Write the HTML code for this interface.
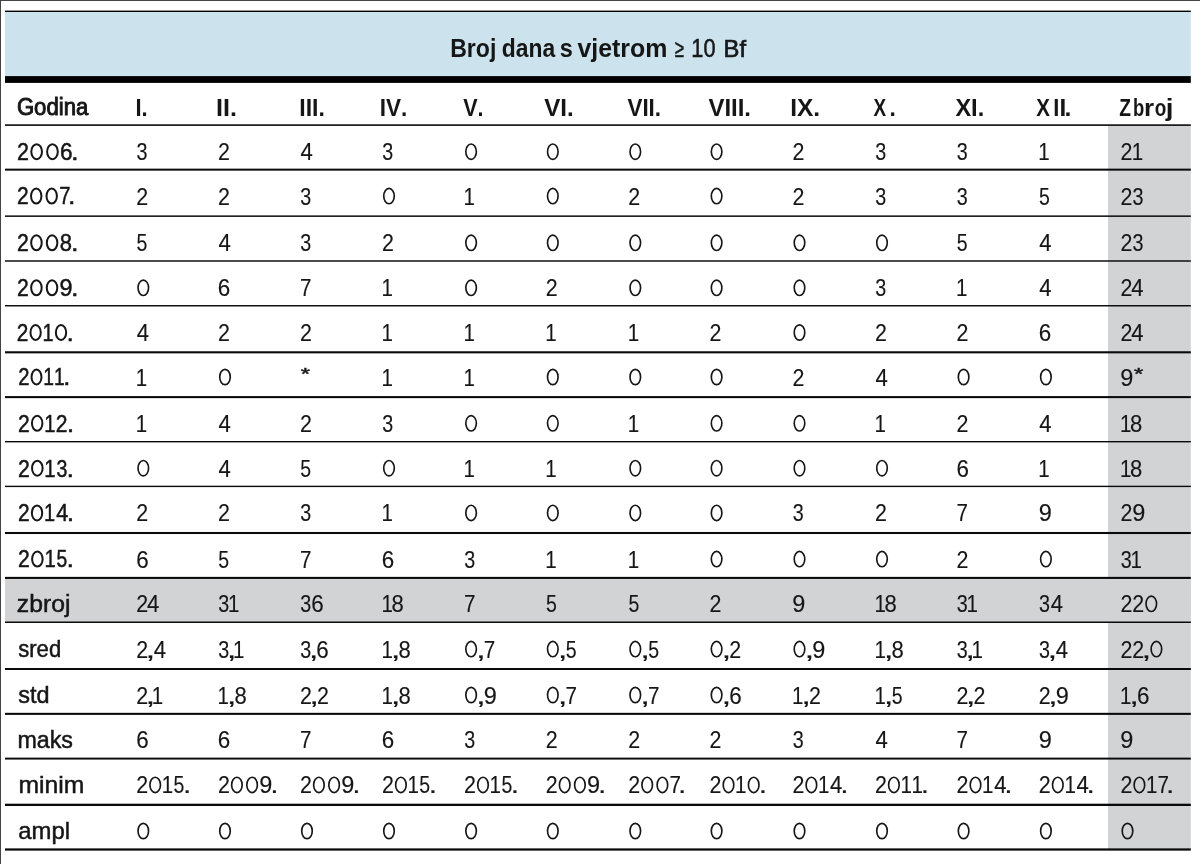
<!DOCTYPE html>
<html><head><meta charset="utf-8"><style>
html,body{margin:0;padding:0;background:#fff;}
body{width:1200px;height:864px;overflow:hidden;}
svg{display:block;will-change:transform;}
text{font-family:"Liberation Sans",sans-serif;font-size:24.5px;fill:#161616;font-kerning:none;}
</style></head><body>
<svg width="1200" height="864" viewBox="0 0 1200 864">
<rect x="0" y="0" width="1200" height="864" fill="#fff"/>
<rect x="5" y="11.5" width="1185.8" height="64.5" fill="#cce3ed"/>
<rect x="5" y="10.6" width="1185.8" height="1.4" fill="#000"/>
<rect x="5" y="76.1" width="1185.8" height="6.8" fill="#000"/>
<rect x="1108" y="125.1" width="82.79999999999995" height="724.4" fill="#d2d3d5"/>
<rect x="5" y="577.9" width="1185.8" height="44.35000000000002" fill="#d2d3d5"/>
<rect x="5" y="124.30" width="1185.8" height="1.6" fill="#0a0a0a"/>
<rect x="5" y="168.65" width="1185.8" height="2.0" fill="#0a0a0a"/>
<rect x="5" y="215.40" width="1185.8" height="1.5" fill="#0a0a0a"/>
<rect x="5" y="260.27" width="1185.8" height="1.45" fill="#0a0a0a"/>
<rect x="5" y="305.02" width="1185.8" height="1.45" fill="#0a0a0a"/>
<rect x="5" y="351.25" width="1185.8" height="2.1" fill="#0a0a0a"/>
<rect x="5" y="396.08" width="1185.8" height="2.05" fill="#0a0a0a"/>
<rect x="5" y="441.00" width="1185.8" height="1.4" fill="#0a0a0a"/>
<rect x="5" y="485.70" width="1185.8" height="1.4" fill="#0a0a0a"/>
<rect x="5" y="531.97" width="1185.8" height="2.07" fill="#0a0a0a"/>
<rect x="5" y="576.87" width="1185.8" height="2.07" fill="#0a0a0a"/>
<rect x="5" y="621.50" width="1185.8" height="1.5" fill="#0a0a0a"/>
<rect x="5" y="668.00" width="1185.8" height="2.0" fill="#0a0a0a"/>
<rect x="5" y="712.82" width="1185.8" height="2.07" fill="#0a0a0a"/>
<rect x="5" y="757.63" width="1185.8" height="1.93" fill="#0a0a0a"/>
<rect x="5" y="803.70" width="1185.8" height="2.3" fill="#0a0a0a"/>
<rect x="5" y="848.38" width="1185.8" height="2.25" fill="#0a0a0a"/>
<rect x="0" y="0" width="1200" height="1" fill="#444"/>
<rect x="0" y="0" width="1" height="864" fill="#424242"/>
<text transform="translate(450.16 56.70) scale(0.898 1)" font-weight="bold" style="font-size:25.7px">Broj</text>
<text transform="translate(501.76 56.70) scale(0.890 1)" font-weight="bold" style="font-size:25.7px">dana</text>
<text transform="translate(559.87 56.70) scale(0.916 1)" font-weight="bold" style="font-size:25.7px">s</text>
<text transform="translate(577.40 56.70) scale(0.969 1)" font-weight="bold" style="font-size:25.7px">vjetrom</text>
<text transform="translate(674.66 56.70) scale(0.657 0.977)" style="font-size:25.7px" stroke="#161616" stroke-width="0.4">≥</text>
<text transform="translate(691.29 56.65) scale(0.847 0.972)" style="font-size:25.7px" stroke="#161616" stroke-width="0.5">10</text>
<text transform="translate(723.59 56.55) scale(0.927 0.961)" style="font-size:25.7px" stroke="#161616" stroke-width="0.7">Bf</text>
<text transform="translate(16.89 115.40) scale(0.904 0.941)" stroke="#161616" stroke-width="1.0">Godina</text>
<text transform="translate(135.53 115.90) scale(0.894 1)" font-weight="bold">I.</text>
<text transform="translate(216.12 115.90) scale(1.024 1)" font-weight="bold">II.</text>
<text transform="translate(299.26 115.90) scale(0.941 1)" font-weight="bold">III.</text>
<text transform="translate(379.79 115.90) scale(0.920 1)" font-weight="bold">IV.</text>
<text transform="translate(463.15 115.90) scale(0.878 1)" font-weight="bold">V.</text>
<text transform="translate(544.23 115.90) scale(0.986 1)" font-weight="bold">VI.</text>
<text transform="translate(627.45 115.90) scale(0.914 1)" font-weight="bold">VII.</text>
<text transform="translate(708.44 115.90) scale(0.978 1)" font-weight="bold">VIII.</text>
<text transform="translate(790.26 115.90) scale(0.999 1)" font-weight="bold">IX.</text>
<text transform="translate(873.53 115.90) scale(0.773 1)" font-weight="bold">X</text>
<text transform="translate(889.46 115.90) scale(0.926 1)" font-weight="bold">.</text>
<text transform="translate(955.39 115.90) scale(0.962 1)" font-weight="bold">XI.</text>
<text transform="translate(1036.37 115.90) scale(0.836 1)" font-weight="bold">X</text>
<text transform="translate(1053.29 115.90) scale(0.893 1)" font-weight="bold">I</text>
<text transform="translate(1059.57 115.90) scale(0.992 1)" font-weight="bold">I</text>
<text transform="translate(1064.42 115.90) scale(1.012 1)" font-weight="bold">.</text>
<text transform="translate(1119.13 115.90) scale(0.783 1)" font-weight="bold">Z</text>
<text transform="translate(1132.98 115.90) scale(0.753 1)" font-weight="bold">b</text>
<text transform="translate(1144.09 115.90) scale(1.060 1)" font-weight="bold">r</text>
<text transform="translate(1154.86 115.90) scale(0.774 1)" font-weight="bold">o</text>
<text transform="translate(1165.63 115.90) scale(1.134 1)" font-weight="bold">j</text>
<text transform="translate(17.07 160.05) scale(0.878 0.970)" stroke="#161616" stroke-width="0.5">2</text>
<ellipse cx="36.64" cy="151.70" rx="5.35" ry="7.50" fill="none" stroke="#161616" stroke-width="2.00"/>
<ellipse cx="52.46" cy="151.70" rx="5.35" ry="7.50" fill="none" stroke="#161616" stroke-width="2.00"/>
<text transform="translate(59.99 160.05) scale(0.923 0.970)" stroke="#161616" stroke-width="0.5">6</text>
<text transform="translate(71.01 160.05) scale(1.124 0.970)" stroke="#161616" stroke-width="0.5">.</text>
<text transform="translate(136.52 160.23) scale(0.805 0.991)" stroke="#161616" stroke-width="0.15">3</text>
<text transform="translate(217.90 160.23) scale(0.874 0.991)" stroke="#161616" stroke-width="0.15">2</text>
<text transform="translate(300.47 160.23) scale(0.903 0.991)" stroke="#161616" stroke-width="0.15">4</text>
<text transform="translate(382.22 160.23) scale(0.805 0.991)" stroke="#161616" stroke-width="0.15">3</text>
<ellipse cx="471.10" cy="151.70" rx="5.27" ry="7.67" fill="none" stroke="#161616" stroke-width="1.65"/>
<ellipse cx="552.80" cy="151.70" rx="5.28" ry="7.67" fill="none" stroke="#161616" stroke-width="1.65"/>
<ellipse cx="635.30" cy="151.70" rx="5.28" ry="7.67" fill="none" stroke="#161616" stroke-width="1.65"/>
<ellipse cx="716.60" cy="151.70" rx="5.28" ry="7.67" fill="none" stroke="#161616" stroke-width="1.65"/>
<text transform="translate(792.40 160.23) scale(0.874 0.991)" stroke="#161616" stroke-width="0.15">2</text>
<text transform="translate(875.22 160.23) scale(0.805 0.991)" stroke="#161616" stroke-width="0.15">3</text>
<text transform="translate(956.82 160.23) scale(0.805 0.991)" stroke="#161616" stroke-width="0.15">3</text>
<text transform="translate(1038.31 160.23) scale(0.838 0.991)" stroke="#161616" stroke-width="0.15">1</text>
<text transform="translate(1120.40 160.23) scale(0.874 0.991)" stroke="#161616" stroke-width="0.15">2</text>
<text transform="translate(1131.81 160.23) scale(0.838 0.991)" stroke="#161616" stroke-width="0.15">1</text>
<text transform="translate(17.09 204.45) scale(0.858 0.970)" stroke="#161616" stroke-width="0.5">2</text>
<ellipse cx="36.23" cy="196.10" rx="5.21" ry="7.50" fill="none" stroke="#161616" stroke-width="2.00"/>
<ellipse cx="51.71" cy="196.10" rx="5.21" ry="7.50" fill="none" stroke="#161616" stroke-width="2.00"/>
<text transform="translate(59.17 204.45) scale(0.824 0.970)" stroke="#161616" stroke-width="0.5">7</text>
<text transform="translate(68.04 204.45) scale(1.095 0.970)" stroke="#161616" stroke-width="0.5">.</text>
<text transform="translate(136.20 204.62) scale(0.874 0.991)" stroke="#161616" stroke-width="0.15">2</text>
<text transform="translate(217.90 204.62) scale(0.874 0.991)" stroke="#161616" stroke-width="0.15">2</text>
<text transform="translate(300.22 204.62) scale(0.805 0.991)" stroke="#161616" stroke-width="0.15">3</text>
<ellipse cx="389.00" cy="196.10" rx="5.27" ry="7.67" fill="none" stroke="#161616" stroke-width="1.65"/>
<text transform="translate(463.51 204.62) scale(0.838 0.991)" stroke="#161616" stroke-width="0.15">1</text>
<ellipse cx="552.80" cy="196.10" rx="5.28" ry="7.67" fill="none" stroke="#161616" stroke-width="1.65"/>
<text transform="translate(628.20 204.62) scale(0.874 0.991)" stroke="#161616" stroke-width="0.15">2</text>
<ellipse cx="716.60" cy="196.10" rx="5.28" ry="7.67" fill="none" stroke="#161616" stroke-width="1.65"/>
<text transform="translate(792.40 204.62) scale(0.874 0.991)" stroke="#161616" stroke-width="0.15">2</text>
<text transform="translate(875.22 204.62) scale(0.805 0.991)" stroke="#161616" stroke-width="0.15">3</text>
<text transform="translate(956.82 204.62) scale(0.805 0.991)" stroke="#161616" stroke-width="0.15">3</text>
<text transform="translate(1039.09 204.62) scale(0.796 0.991)" stroke="#161616" stroke-width="0.15">5</text>
<text transform="translate(1120.40 204.62) scale(0.874 0.991)" stroke="#161616" stroke-width="0.15">2</text>
<text transform="translate(1132.62 204.62) scale(0.805 0.991)" stroke="#161616" stroke-width="0.15">3</text>
<text transform="translate(17.08 251.15) scale(0.869 0.970)" stroke="#161616" stroke-width="0.5">2</text>
<ellipse cx="36.44" cy="242.80" rx="5.28" ry="7.50" fill="none" stroke="#161616" stroke-width="2.00"/>
<ellipse cx="52.09" cy="242.80" rx="5.28" ry="7.50" fill="none" stroke="#161616" stroke-width="2.00"/>
<text transform="translate(59.73 251.15) scale(0.897 0.970)" stroke="#161616" stroke-width="0.5">8</text>
<text transform="translate(71.08 251.15) scale(1.110 0.970)" stroke="#161616" stroke-width="0.5">.</text>
<text transform="translate(136.49 251.33) scale(0.796 0.991)" stroke="#161616" stroke-width="0.15">5</text>
<text transform="translate(218.47 251.33) scale(0.903 0.991)" stroke="#161616" stroke-width="0.15">4</text>
<text transform="translate(300.22 251.33) scale(0.805 0.991)" stroke="#161616" stroke-width="0.15">3</text>
<text transform="translate(381.90 251.33) scale(0.874 0.991)" stroke="#161616" stroke-width="0.15">2</text>
<ellipse cx="471.10" cy="242.80" rx="5.27" ry="7.67" fill="none" stroke="#161616" stroke-width="1.65"/>
<ellipse cx="552.80" cy="242.80" rx="5.28" ry="7.67" fill="none" stroke="#161616" stroke-width="1.65"/>
<ellipse cx="635.30" cy="242.80" rx="5.28" ry="7.67" fill="none" stroke="#161616" stroke-width="1.65"/>
<ellipse cx="716.60" cy="242.80" rx="5.28" ry="7.67" fill="none" stroke="#161616" stroke-width="1.65"/>
<ellipse cx="799.50" cy="242.80" rx="5.28" ry="7.67" fill="none" stroke="#161616" stroke-width="1.65"/>
<ellipse cx="882.00" cy="242.80" rx="5.28" ry="7.67" fill="none" stroke="#161616" stroke-width="1.65"/>
<text transform="translate(956.79 251.33) scale(0.796 0.991)" stroke="#161616" stroke-width="0.15">5</text>
<text transform="translate(1039.37 251.33) scale(0.903 0.991)" stroke="#161616" stroke-width="0.15">4</text>
<text transform="translate(1120.40 251.33) scale(0.874 0.991)" stroke="#161616" stroke-width="0.15">2</text>
<text transform="translate(1132.62 251.33) scale(0.805 0.991)" stroke="#161616" stroke-width="0.15">3</text>
<text transform="translate(17.08 296.15) scale(0.867 0.970)" stroke="#161616" stroke-width="0.5">2</text>
<ellipse cx="36.41" cy="287.80" rx="5.27" ry="7.50" fill="none" stroke="#161616" stroke-width="2.00"/>
<ellipse cx="52.03" cy="287.80" rx="5.27" ry="7.50" fill="none" stroke="#161616" stroke-width="2.00"/>
<text transform="translate(59.51 296.15) scale(0.955 0.970)" stroke="#161616" stroke-width="0.5">9</text>
<text transform="translate(71.09 296.15) scale(1.108 0.970)" stroke="#161616" stroke-width="0.5">.</text>
<ellipse cx="143.30" cy="287.80" rx="5.27" ry="7.67" fill="none" stroke="#161616" stroke-width="1.65"/>
<text transform="translate(217.84 296.32) scale(0.916 0.991)" stroke="#161616" stroke-width="0.15">6</text>
<text transform="translate(299.92 296.32) scale(0.840 0.991)" stroke="#161616" stroke-width="0.15">7</text>
<text transform="translate(381.41 296.32) scale(0.838 0.991)" stroke="#161616" stroke-width="0.15">1</text>
<ellipse cx="471.10" cy="287.80" rx="5.27" ry="7.67" fill="none" stroke="#161616" stroke-width="1.65"/>
<text transform="translate(545.70 296.32) scale(0.874 0.991)" stroke="#161616" stroke-width="0.15">2</text>
<ellipse cx="635.30" cy="287.80" rx="5.28" ry="7.67" fill="none" stroke="#161616" stroke-width="1.65"/>
<ellipse cx="716.60" cy="287.80" rx="5.28" ry="7.67" fill="none" stroke="#161616" stroke-width="1.65"/>
<ellipse cx="799.50" cy="287.80" rx="5.28" ry="7.67" fill="none" stroke="#161616" stroke-width="1.65"/>
<text transform="translate(875.22 296.32) scale(0.805 0.991)" stroke="#161616" stroke-width="0.15">3</text>
<text transform="translate(956.01 296.32) scale(0.838 0.991)" stroke="#161616" stroke-width="0.15">1</text>
<text transform="translate(1039.37 296.32) scale(0.903 0.991)" stroke="#161616" stroke-width="0.15">4</text>
<text transform="translate(1120.40 296.32) scale(0.874 0.991)" stroke="#161616" stroke-width="0.15">2</text>
<text transform="translate(1131.27 296.32) scale(0.903 0.991)" stroke="#161616" stroke-width="0.15">4</text>
<text transform="translate(16.70 340.85) scale(0.849 0.970)" stroke="#161616" stroke-width="0.5">2</text>
<ellipse cx="35.63" cy="332.50" rx="5.15" ry="7.50" fill="none" stroke="#161616" stroke-width="2.00"/>
<text transform="translate(42.53 340.85) scale(0.811 0.970)" stroke="#161616" stroke-width="0.5">1</text>
<ellipse cx="61.02" cy="332.50" rx="5.15" ry="7.50" fill="none" stroke="#161616" stroke-width="2.00"/>
<text transform="translate(66.51 340.85) scale(1.081 0.970)" stroke="#161616" stroke-width="0.5">.</text>
<text transform="translate(136.77 341.03) scale(0.903 0.991)" stroke="#161616" stroke-width="0.15">4</text>
<text transform="translate(217.90 341.03) scale(0.874 0.991)" stroke="#161616" stroke-width="0.15">2</text>
<text transform="translate(299.90 341.03) scale(0.874 0.991)" stroke="#161616" stroke-width="0.15">2</text>
<text transform="translate(381.41 341.03) scale(0.838 0.991)" stroke="#161616" stroke-width="0.15">1</text>
<text transform="translate(463.51 341.03) scale(0.838 0.991)" stroke="#161616" stroke-width="0.15">1</text>
<text transform="translate(545.21 341.03) scale(0.838 0.991)" stroke="#161616" stroke-width="0.15">1</text>
<text transform="translate(627.71 341.03) scale(0.838 0.991)" stroke="#161616" stroke-width="0.15">1</text>
<text transform="translate(709.50 341.03) scale(0.874 0.991)" stroke="#161616" stroke-width="0.15">2</text>
<ellipse cx="799.50" cy="332.50" rx="5.28" ry="7.67" fill="none" stroke="#161616" stroke-width="1.65"/>
<text transform="translate(874.90 341.03) scale(0.874 0.991)" stroke="#161616" stroke-width="0.15">2</text>
<text transform="translate(956.50 341.03) scale(0.874 0.991)" stroke="#161616" stroke-width="0.15">2</text>
<text transform="translate(1038.74 341.03) scale(0.916 0.991)" stroke="#161616" stroke-width="0.15">6</text>
<text transform="translate(1120.40 341.03) scale(0.874 0.991)" stroke="#161616" stroke-width="0.15">2</text>
<text transform="translate(1131.27 341.03) scale(0.903 0.991)" stroke="#161616" stroke-width="0.15">4</text>
<text transform="translate(18.14 385.35) scale(0.823 0.970)" stroke="#161616" stroke-width="0.5">2</text>
<ellipse cx="36.51" cy="377.00" rx="4.97" ry="7.50" fill="none" stroke="#161616" stroke-width="2.00"/>
<text transform="translate(43.21 385.35) scale(0.786 0.970)" stroke="#161616" stroke-width="0.5">1</text>
<text transform="translate(53.97 385.35) scale(0.786 0.970)" stroke="#161616" stroke-width="0.5">1</text>
<text transform="translate(63.18 385.35) scale(1.044 0.970)" stroke="#161616" stroke-width="0.5">.</text>
<text transform="translate(135.71 385.53) scale(0.838 0.991)" stroke="#161616" stroke-width="0.15">1</text>
<ellipse cx="225.00" cy="377.00" rx="5.27" ry="7.67" fill="none" stroke="#161616" stroke-width="1.65"/>
<text transform="translate(300.74 380.07) scale(1.407 0.962)" style="font-size:17px" stroke="#161616" stroke-width="0.44999999999999996">*</text>
<text transform="translate(381.41 385.53) scale(0.838 0.991)" stroke="#161616" stroke-width="0.15">1</text>
<text transform="translate(463.51 385.53) scale(0.838 0.991)" stroke="#161616" stroke-width="0.15">1</text>
<ellipse cx="552.80" cy="377.00" rx="5.28" ry="7.67" fill="none" stroke="#161616" stroke-width="1.65"/>
<ellipse cx="635.30" cy="377.00" rx="5.28" ry="7.67" fill="none" stroke="#161616" stroke-width="1.65"/>
<ellipse cx="716.60" cy="377.00" rx="5.28" ry="7.67" fill="none" stroke="#161616" stroke-width="1.65"/>
<text transform="translate(792.40 385.53) scale(0.874 0.991)" stroke="#161616" stroke-width="0.15">2</text>
<text transform="translate(875.47 385.53) scale(0.903 0.991)" stroke="#161616" stroke-width="0.15">4</text>
<ellipse cx="963.60" cy="377.00" rx="5.28" ry="7.67" fill="none" stroke="#161616" stroke-width="1.65"/>
<ellipse cx="1045.90" cy="377.00" rx="5.28" ry="7.67" fill="none" stroke="#161616" stroke-width="1.65"/>
<text transform="translate(1120.37 385.53) scale(0.959 0.991)" stroke="#161616" stroke-width="0.15">9</text>
<text transform="translate(1133.94 380.07) scale(1.407 0.962)" style="font-size:17px" stroke="#161616" stroke-width="0.44999999999999996">*</text>
<text transform="translate(17.99 431.65) scale(0.861 0.970)" stroke="#161616" stroke-width="0.5">2</text>
<ellipse cx="37.18" cy="423.30" rx="5.23" ry="7.50" fill="none" stroke="#161616" stroke-width="2.00"/>
<text transform="translate(44.17 431.65) scale(0.823 0.970)" stroke="#161616" stroke-width="0.5">1</text>
<text transform="translate(55.87 431.65) scale(0.861 0.970)" stroke="#161616" stroke-width="0.5">2</text>
<text transform="translate(66.63 431.65) scale(1.099 0.970)" stroke="#161616" stroke-width="0.5">.</text>
<text transform="translate(135.71 431.82) scale(0.838 0.991)" stroke="#161616" stroke-width="0.15">1</text>
<text transform="translate(218.47 431.82) scale(0.903 0.991)" stroke="#161616" stroke-width="0.15">4</text>
<text transform="translate(299.90 431.82) scale(0.874 0.991)" stroke="#161616" stroke-width="0.15">2</text>
<text transform="translate(382.22 431.82) scale(0.805 0.991)" stroke="#161616" stroke-width="0.15">3</text>
<ellipse cx="471.10" cy="423.30" rx="5.27" ry="7.67" fill="none" stroke="#161616" stroke-width="1.65"/>
<ellipse cx="552.80" cy="423.30" rx="5.28" ry="7.67" fill="none" stroke="#161616" stroke-width="1.65"/>
<text transform="translate(627.71 431.82) scale(0.838 0.991)" stroke="#161616" stroke-width="0.15">1</text>
<ellipse cx="716.60" cy="423.30" rx="5.28" ry="7.67" fill="none" stroke="#161616" stroke-width="1.65"/>
<ellipse cx="799.50" cy="423.30" rx="5.28" ry="7.67" fill="none" stroke="#161616" stroke-width="1.65"/>
<text transform="translate(874.41 431.82) scale(0.838 0.991)" stroke="#161616" stroke-width="0.15">1</text>
<text transform="translate(956.50 431.82) scale(0.874 0.991)" stroke="#161616" stroke-width="0.15">2</text>
<text transform="translate(1039.37 431.82) scale(0.903 0.991)" stroke="#161616" stroke-width="0.15">4</text>
<text transform="translate(1119.91 431.82) scale(0.838 0.991)" stroke="#161616" stroke-width="0.15">1</text>
<text transform="translate(1130.12 431.82) scale(0.900 0.991)" stroke="#161616" stroke-width="0.15">8</text>
<text transform="translate(17.98 476.55) scale(0.868 0.970)" stroke="#161616" stroke-width="0.5">2</text>
<ellipse cx="37.32" cy="468.20" rx="5.28" ry="7.50" fill="none" stroke="#161616" stroke-width="2.00"/>
<text transform="translate(44.36 476.55) scale(0.829 0.970)" stroke="#161616" stroke-width="0.5">1</text>
<text transform="translate(56.48 476.55) scale(0.799 0.970)" stroke="#161616" stroke-width="0.5">3</text>
<text transform="translate(66.58 476.55) scale(1.109 0.970)" stroke="#161616" stroke-width="0.5">.</text>
<ellipse cx="143.30" cy="468.20" rx="5.27" ry="7.67" fill="none" stroke="#161616" stroke-width="1.65"/>
<text transform="translate(218.47 476.73) scale(0.903 0.991)" stroke="#161616" stroke-width="0.15">4</text>
<text transform="translate(300.19 476.73) scale(0.796 0.991)" stroke="#161616" stroke-width="0.15">5</text>
<ellipse cx="389.00" cy="468.20" rx="5.27" ry="7.67" fill="none" stroke="#161616" stroke-width="1.65"/>
<text transform="translate(463.51 476.73) scale(0.838 0.991)" stroke="#161616" stroke-width="0.15">1</text>
<text transform="translate(545.21 476.73) scale(0.838 0.991)" stroke="#161616" stroke-width="0.15">1</text>
<ellipse cx="635.30" cy="468.20" rx="5.28" ry="7.67" fill="none" stroke="#161616" stroke-width="1.65"/>
<ellipse cx="716.60" cy="468.20" rx="5.28" ry="7.67" fill="none" stroke="#161616" stroke-width="1.65"/>
<ellipse cx="799.50" cy="468.20" rx="5.28" ry="7.67" fill="none" stroke="#161616" stroke-width="1.65"/>
<ellipse cx="882.00" cy="468.20" rx="5.28" ry="7.67" fill="none" stroke="#161616" stroke-width="1.65"/>
<text transform="translate(956.44 476.73) scale(0.916 0.991)" stroke="#161616" stroke-width="0.15">6</text>
<text transform="translate(1038.31 476.73) scale(0.838 0.991)" stroke="#161616" stroke-width="0.15">1</text>
<text transform="translate(1119.91 476.73) scale(0.838 0.991)" stroke="#161616" stroke-width="0.15">1</text>
<text transform="translate(1130.12 476.73) scale(0.900 0.991)" stroke="#161616" stroke-width="0.15">8</text>
<text transform="translate(18.00 521.25) scale(0.854 0.970)" stroke="#161616" stroke-width="0.5">2</text>
<ellipse cx="37.04" cy="512.90" rx="5.18" ry="7.50" fill="none" stroke="#161616" stroke-width="2.00"/>
<text transform="translate(43.98 521.25) scale(0.816 0.970)" stroke="#161616" stroke-width="0.5">1</text>
<text transform="translate(56.15 521.25) scale(0.887 0.970)" stroke="#161616" stroke-width="0.5">4</text>
<text transform="translate(66.67 521.25) scale(1.089 0.970)" stroke="#161616" stroke-width="0.5">.</text>
<text transform="translate(136.20 521.42) scale(0.874 0.991)" stroke="#161616" stroke-width="0.15">2</text>
<text transform="translate(217.90 521.42) scale(0.874 0.991)" stroke="#161616" stroke-width="0.15">2</text>
<text transform="translate(300.22 521.42) scale(0.805 0.991)" stroke="#161616" stroke-width="0.15">3</text>
<text transform="translate(381.41 521.42) scale(0.838 0.991)" stroke="#161616" stroke-width="0.15">1</text>
<ellipse cx="471.10" cy="512.90" rx="5.27" ry="7.67" fill="none" stroke="#161616" stroke-width="1.65"/>
<ellipse cx="552.80" cy="512.90" rx="5.28" ry="7.67" fill="none" stroke="#161616" stroke-width="1.65"/>
<ellipse cx="635.30" cy="512.90" rx="5.28" ry="7.67" fill="none" stroke="#161616" stroke-width="1.65"/>
<ellipse cx="716.60" cy="512.90" rx="5.28" ry="7.67" fill="none" stroke="#161616" stroke-width="1.65"/>
<text transform="translate(792.72 521.42) scale(0.805 0.991)" stroke="#161616" stroke-width="0.15">3</text>
<text transform="translate(874.90 521.42) scale(0.874 0.991)" stroke="#161616" stroke-width="0.15">2</text>
<text transform="translate(956.52 521.42) scale(0.840 0.991)" stroke="#161616" stroke-width="0.15">7</text>
<text transform="translate(1038.77 521.42) scale(0.959 0.991)" stroke="#161616" stroke-width="0.15">9</text>
<text transform="translate(1120.40 521.42) scale(0.874 0.991)" stroke="#161616" stroke-width="0.15">2</text>
<text transform="translate(1132.27 521.42) scale(0.959 0.991)" stroke="#161616" stroke-width="0.15">9</text>
<text transform="translate(18.08 567.45) scale(0.865 0.970)" stroke="#161616" stroke-width="0.5">2</text>
<ellipse cx="37.37" cy="559.10" rx="5.26" ry="7.50" fill="none" stroke="#161616" stroke-width="2.00"/>
<text transform="translate(44.39 567.45) scale(0.827 0.970)" stroke="#161616" stroke-width="0.5">1</text>
<text transform="translate(56.45 567.45) scale(0.787 0.970)" stroke="#161616" stroke-width="0.5">5</text>
<text transform="translate(66.45 567.45) scale(1.105 0.970)" stroke="#161616" stroke-width="0.5">.</text>
<text transform="translate(136.14 567.62) scale(0.916 0.991)" stroke="#161616" stroke-width="0.15">6</text>
<text transform="translate(218.19 567.62) scale(0.796 0.991)" stroke="#161616" stroke-width="0.15">5</text>
<text transform="translate(299.92 567.62) scale(0.840 0.991)" stroke="#161616" stroke-width="0.15">7</text>
<text transform="translate(381.84 567.62) scale(0.916 0.991)" stroke="#161616" stroke-width="0.15">6</text>
<text transform="translate(464.32 567.62) scale(0.805 0.991)" stroke="#161616" stroke-width="0.15">3</text>
<text transform="translate(545.21 567.62) scale(0.838 0.991)" stroke="#161616" stroke-width="0.15">1</text>
<text transform="translate(627.71 567.62) scale(0.838 0.991)" stroke="#161616" stroke-width="0.15">1</text>
<ellipse cx="716.60" cy="559.10" rx="5.28" ry="7.67" fill="none" stroke="#161616" stroke-width="1.65"/>
<ellipse cx="799.50" cy="559.10" rx="5.28" ry="7.67" fill="none" stroke="#161616" stroke-width="1.65"/>
<ellipse cx="882.00" cy="559.10" rx="5.28" ry="7.67" fill="none" stroke="#161616" stroke-width="1.65"/>
<text transform="translate(956.50 567.62) scale(0.874 0.991)" stroke="#161616" stroke-width="0.15">2</text>
<ellipse cx="1045.90" cy="559.10" rx="5.28" ry="7.67" fill="none" stroke="#161616" stroke-width="1.65"/>
<text transform="translate(1120.72 567.62) scale(0.805 0.991)" stroke="#161616" stroke-width="0.15">3</text>
<text transform="translate(1130.41 567.62) scale(0.838 0.991)" stroke="#161616" stroke-width="0.15">1</text>
<text transform="translate(16.85 612.15) scale(1.009 0.970)" stroke="#161616" stroke-width="0.5">zbroj</text>
<text transform="translate(136.20 612.32) scale(0.874 0.991)" stroke="#161616" stroke-width="0.15">2</text>
<text transform="translate(147.07 612.32) scale(0.903 0.991)" stroke="#161616" stroke-width="0.15">4</text>
<text transform="translate(218.22 612.32) scale(0.805 0.991)" stroke="#161616" stroke-width="0.15">3</text>
<text transform="translate(227.91 612.32) scale(0.838 0.991)" stroke="#161616" stroke-width="0.15">1</text>
<text transform="translate(300.22 612.32) scale(0.805 0.991)" stroke="#161616" stroke-width="0.15">3</text>
<text transform="translate(311.34 612.32) scale(0.916 0.991)" stroke="#161616" stroke-width="0.15">6</text>
<text transform="translate(381.41 612.32) scale(0.838 0.991)" stroke="#161616" stroke-width="0.15">1</text>
<text transform="translate(391.62 612.32) scale(0.900 0.991)" stroke="#161616" stroke-width="0.15">8</text>
<text transform="translate(464.02 612.32) scale(0.840 0.991)" stroke="#161616" stroke-width="0.15">7</text>
<text transform="translate(545.99 612.32) scale(0.796 0.991)" stroke="#161616" stroke-width="0.15">5</text>
<text transform="translate(628.49 612.32) scale(0.796 0.991)" stroke="#161616" stroke-width="0.15">5</text>
<text transform="translate(709.50 612.32) scale(0.874 0.991)" stroke="#161616" stroke-width="0.15">2</text>
<text transform="translate(792.37 612.32) scale(0.959 0.991)" stroke="#161616" stroke-width="0.15">9</text>
<text transform="translate(874.41 612.32) scale(0.838 0.991)" stroke="#161616" stroke-width="0.15">1</text>
<text transform="translate(884.62 612.32) scale(0.900 0.991)" stroke="#161616" stroke-width="0.15">8</text>
<text transform="translate(956.82 612.32) scale(0.805 0.991)" stroke="#161616" stroke-width="0.15">3</text>
<text transform="translate(966.51 612.32) scale(0.838 0.991)" stroke="#161616" stroke-width="0.15">1</text>
<text transform="translate(1039.12 612.32) scale(0.805 0.991)" stroke="#161616" stroke-width="0.15">3</text>
<text transform="translate(1050.87 612.32) scale(0.903 0.991)" stroke="#161616" stroke-width="0.15">4</text>
<text transform="translate(1120.40 612.32) scale(0.874 0.991)" stroke="#161616" stroke-width="0.15">2</text>
<text transform="translate(1132.30 612.32) scale(0.874 0.991)" stroke="#161616" stroke-width="0.15">2</text>
<ellipse cx="1151.30" cy="603.80" rx="5.28" ry="7.67" fill="none" stroke="#161616" stroke-width="1.65"/>
<text transform="translate(18.24 657.45) scale(0.901 0.970)" stroke="#161616" stroke-width="0.5">sred</text>
<text transform="translate(136.20 657.62) scale(0.874 0.991)" stroke="#161616" stroke-width="0.15">2</text>
<text transform="translate(145.52 657.62) scale(1.435 0.991)" stroke="#161616" stroke-width="0.15">,</text>
<text transform="translate(153.67 657.62) scale(0.903 0.991)" stroke="#161616" stroke-width="0.15">4</text>
<text transform="translate(218.22 657.62) scale(0.805 0.991)" stroke="#161616" stroke-width="0.15">3</text>
<text transform="translate(226.72 657.62) scale(1.435 0.991)" stroke="#161616" stroke-width="0.15">,</text>
<text transform="translate(232.91 657.62) scale(0.838 0.991)" stroke="#161616" stroke-width="0.15">1</text>
<text transform="translate(300.22 657.62) scale(0.805 0.991)" stroke="#161616" stroke-width="0.15">3</text>
<text transform="translate(308.72 657.62) scale(1.435 0.991)" stroke="#161616" stroke-width="0.15">,</text>
<text transform="translate(316.34 657.62) scale(0.916 0.991)" stroke="#161616" stroke-width="0.15">6</text>
<text transform="translate(381.41 657.62) scale(0.838 0.991)" stroke="#161616" stroke-width="0.15">1</text>
<text transform="translate(390.82 657.62) scale(1.435 0.991)" stroke="#161616" stroke-width="0.15">,</text>
<text transform="translate(398.62 657.62) scale(0.900 0.991)" stroke="#161616" stroke-width="0.15">8</text>
<ellipse cx="471.10" cy="649.10" rx="5.27" ry="7.67" fill="none" stroke="#161616" stroke-width="1.65"/>
<text transform="translate(476.12 657.62) scale(1.435 0.991)" stroke="#161616" stroke-width="0.15">,</text>
<text transform="translate(483.82 657.62) scale(0.840 0.991)" stroke="#161616" stroke-width="0.15">7</text>
<ellipse cx="552.80" cy="649.10" rx="5.28" ry="7.67" fill="none" stroke="#161616" stroke-width="1.65"/>
<text transform="translate(557.82 657.62) scale(1.435 0.991)" stroke="#161616" stroke-width="0.15">,</text>
<text transform="translate(565.79 657.62) scale(0.796 0.991)" stroke="#161616" stroke-width="0.15">5</text>
<ellipse cx="635.30" cy="649.10" rx="5.28" ry="7.67" fill="none" stroke="#161616" stroke-width="1.65"/>
<text transform="translate(640.32 657.62) scale(1.435 0.991)" stroke="#161616" stroke-width="0.15">,</text>
<text transform="translate(648.29 657.62) scale(0.796 0.991)" stroke="#161616" stroke-width="0.15">5</text>
<ellipse cx="716.60" cy="649.10" rx="5.28" ry="7.67" fill="none" stroke="#161616" stroke-width="1.65"/>
<text transform="translate(721.62 657.62) scale(1.435 0.991)" stroke="#161616" stroke-width="0.15">,</text>
<text transform="translate(729.30 657.62) scale(0.874 0.991)" stroke="#161616" stroke-width="0.15">2</text>
<ellipse cx="799.50" cy="649.10" rx="5.28" ry="7.67" fill="none" stroke="#161616" stroke-width="1.65"/>
<text transform="translate(804.52 657.62) scale(1.435 0.991)" stroke="#161616" stroke-width="0.15">,</text>
<text transform="translate(812.17 657.62) scale(0.959 0.991)" stroke="#161616" stroke-width="0.15">9</text>
<text transform="translate(874.41 657.62) scale(0.838 0.991)" stroke="#161616" stroke-width="0.15">1</text>
<text transform="translate(883.82 657.62) scale(1.435 0.991)" stroke="#161616" stroke-width="0.15">,</text>
<text transform="translate(891.62 657.62) scale(0.900 0.991)" stroke="#161616" stroke-width="0.15">8</text>
<text transform="translate(956.82 657.62) scale(0.805 0.991)" stroke="#161616" stroke-width="0.15">3</text>
<text transform="translate(965.32 657.62) scale(1.435 0.991)" stroke="#161616" stroke-width="0.15">,</text>
<text transform="translate(971.51 657.62) scale(0.838 0.991)" stroke="#161616" stroke-width="0.15">1</text>
<text transform="translate(1039.12 657.62) scale(0.805 0.991)" stroke="#161616" stroke-width="0.15">3</text>
<text transform="translate(1047.62 657.62) scale(1.435 0.991)" stroke="#161616" stroke-width="0.15">,</text>
<text transform="translate(1055.77 657.62) scale(0.903 0.991)" stroke="#161616" stroke-width="0.15">4</text>
<text transform="translate(1120.40 657.62) scale(0.874 0.991)" stroke="#161616" stroke-width="0.15">2</text>
<text transform="translate(1132.30 657.62) scale(0.874 0.991)" stroke="#161616" stroke-width="0.15">2</text>
<text transform="translate(1141.62 657.62) scale(1.435 0.991)" stroke="#161616" stroke-width="0.15">,</text>
<ellipse cx="1156.40" cy="649.10" rx="5.28" ry="7.67" fill="none" stroke="#161616" stroke-width="1.65"/>
<text transform="translate(18.20 703.35) scale(0.957 0.970)" stroke="#161616" stroke-width="0.5">std</text>
<text transform="translate(136.20 703.52) scale(0.874 0.991)" stroke="#161616" stroke-width="0.15">2</text>
<text transform="translate(145.52 703.52) scale(1.435 0.991)" stroke="#161616" stroke-width="0.15">,</text>
<text transform="translate(151.71 703.52) scale(0.838 0.991)" stroke="#161616" stroke-width="0.15">1</text>
<text transform="translate(217.41 703.52) scale(0.838 0.991)" stroke="#161616" stroke-width="0.15">1</text>
<text transform="translate(226.82 703.52) scale(1.435 0.991)" stroke="#161616" stroke-width="0.15">,</text>
<text transform="translate(234.62 703.52) scale(0.900 0.991)" stroke="#161616" stroke-width="0.15">8</text>
<text transform="translate(299.90 703.52) scale(0.874 0.991)" stroke="#161616" stroke-width="0.15">2</text>
<text transform="translate(309.22 703.52) scale(1.435 0.991)" stroke="#161616" stroke-width="0.15">,</text>
<text transform="translate(316.90 703.52) scale(0.874 0.991)" stroke="#161616" stroke-width="0.15">2</text>
<text transform="translate(381.41 703.52) scale(0.838 0.991)" stroke="#161616" stroke-width="0.15">1</text>
<text transform="translate(390.82 703.52) scale(1.435 0.991)" stroke="#161616" stroke-width="0.15">,</text>
<text transform="translate(398.62 703.52) scale(0.900 0.991)" stroke="#161616" stroke-width="0.15">8</text>
<ellipse cx="471.10" cy="695.00" rx="5.27" ry="7.67" fill="none" stroke="#161616" stroke-width="1.65"/>
<text transform="translate(476.12 703.52) scale(1.435 0.991)" stroke="#161616" stroke-width="0.15">,</text>
<text transform="translate(483.77 703.52) scale(0.959 0.991)" stroke="#161616" stroke-width="0.15">9</text>
<ellipse cx="552.80" cy="695.00" rx="5.28" ry="7.67" fill="none" stroke="#161616" stroke-width="1.65"/>
<text transform="translate(557.82 703.52) scale(1.435 0.991)" stroke="#161616" stroke-width="0.15">,</text>
<text transform="translate(565.52 703.52) scale(0.840 0.991)" stroke="#161616" stroke-width="0.15">7</text>
<ellipse cx="635.30" cy="695.00" rx="5.28" ry="7.67" fill="none" stroke="#161616" stroke-width="1.65"/>
<text transform="translate(640.32 703.52) scale(1.435 0.991)" stroke="#161616" stroke-width="0.15">,</text>
<text transform="translate(648.02 703.52) scale(0.840 0.991)" stroke="#161616" stroke-width="0.15">7</text>
<ellipse cx="716.60" cy="695.00" rx="5.28" ry="7.67" fill="none" stroke="#161616" stroke-width="1.65"/>
<text transform="translate(721.62 703.52) scale(1.435 0.991)" stroke="#161616" stroke-width="0.15">,</text>
<text transform="translate(729.24 703.52) scale(0.916 0.991)" stroke="#161616" stroke-width="0.15">6</text>
<text transform="translate(791.91 703.52) scale(0.838 0.991)" stroke="#161616" stroke-width="0.15">1</text>
<text transform="translate(801.32 703.52) scale(1.435 0.991)" stroke="#161616" stroke-width="0.15">,</text>
<text transform="translate(809.00 703.52) scale(0.874 0.991)" stroke="#161616" stroke-width="0.15">2</text>
<text transform="translate(874.41 703.52) scale(0.838 0.991)" stroke="#161616" stroke-width="0.15">1</text>
<text transform="translate(883.82 703.52) scale(1.435 0.991)" stroke="#161616" stroke-width="0.15">,</text>
<text transform="translate(891.79 703.52) scale(0.796 0.991)" stroke="#161616" stroke-width="0.15">5</text>
<text transform="translate(956.50 703.52) scale(0.874 0.991)" stroke="#161616" stroke-width="0.15">2</text>
<text transform="translate(965.82 703.52) scale(1.435 0.991)" stroke="#161616" stroke-width="0.15">,</text>
<text transform="translate(973.50 703.52) scale(0.874 0.991)" stroke="#161616" stroke-width="0.15">2</text>
<text transform="translate(1038.80 703.52) scale(0.874 0.991)" stroke="#161616" stroke-width="0.15">2</text>
<text transform="translate(1048.12 703.52) scale(1.435 0.991)" stroke="#161616" stroke-width="0.15">,</text>
<text transform="translate(1055.77 703.52) scale(0.959 0.991)" stroke="#161616" stroke-width="0.15">9</text>
<text transform="translate(1119.91 703.52) scale(0.838 0.991)" stroke="#161616" stroke-width="0.15">1</text>
<text transform="translate(1129.32 703.52) scale(1.435 0.991)" stroke="#161616" stroke-width="0.15">,</text>
<text transform="translate(1136.94 703.52) scale(0.916 0.991)" stroke="#161616" stroke-width="0.15">6</text>
<text transform="translate(17.41 748.15) scale(0.950 0.970)" stroke="#161616" stroke-width="0.5">maks</text>
<text transform="translate(136.14 748.32) scale(0.916 0.991)" stroke="#161616" stroke-width="0.15">6</text>
<text transform="translate(217.84 748.32) scale(0.916 0.991)" stroke="#161616" stroke-width="0.15">6</text>
<text transform="translate(299.92 748.32) scale(0.840 0.991)" stroke="#161616" stroke-width="0.15">7</text>
<text transform="translate(381.84 748.32) scale(0.916 0.991)" stroke="#161616" stroke-width="0.15">6</text>
<text transform="translate(464.32 748.32) scale(0.805 0.991)" stroke="#161616" stroke-width="0.15">3</text>
<text transform="translate(545.70 748.32) scale(0.874 0.991)" stroke="#161616" stroke-width="0.15">2</text>
<text transform="translate(628.20 748.32) scale(0.874 0.991)" stroke="#161616" stroke-width="0.15">2</text>
<text transform="translate(709.50 748.32) scale(0.874 0.991)" stroke="#161616" stroke-width="0.15">2</text>
<text transform="translate(792.72 748.32) scale(0.805 0.991)" stroke="#161616" stroke-width="0.15">3</text>
<text transform="translate(875.47 748.32) scale(0.903 0.991)" stroke="#161616" stroke-width="0.15">4</text>
<text transform="translate(956.52 748.32) scale(0.840 0.991)" stroke="#161616" stroke-width="0.15">7</text>
<text transform="translate(1038.77 748.32) scale(0.959 0.991)" stroke="#161616" stroke-width="0.15">9</text>
<text transform="translate(1120.37 748.32) scale(0.959 0.991)" stroke="#161616" stroke-width="0.15">9</text>
<text transform="translate(18.41 793.25) scale(1.010 0.970)" stroke="#161616" stroke-width="0.5">minim</text>
<text transform="translate(136.20 793.42) scale(0.874 0.991)" stroke="#161616" stroke-width="0.15">2</text>
<ellipse cx="155.20" cy="784.90" rx="5.27" ry="7.67" fill="none" stroke="#161616" stroke-width="1.65"/>
<text transform="translate(161.81 793.42) scale(0.838 0.991)" stroke="#161616" stroke-width="0.15">1</text>
<text transform="translate(173.59 793.42) scale(0.796 0.991)" stroke="#161616" stroke-width="0.15">5</text>
<text transform="translate(183.04 793.42) scale(1.222 0.991)" stroke="#161616" stroke-width="0.15">.</text>
<text transform="translate(217.90 793.42) scale(0.874 0.991)" stroke="#161616" stroke-width="0.15">2</text>
<ellipse cx="236.90" cy="784.90" rx="5.27" ry="7.67" fill="none" stroke="#161616" stroke-width="1.65"/>
<ellipse cx="252.10" cy="784.90" rx="5.27" ry="7.67" fill="none" stroke="#161616" stroke-width="1.65"/>
<text transform="translate(259.17 793.42) scale(0.959 0.991)" stroke="#161616" stroke-width="0.15">9</text>
<text transform="translate(270.14 793.42) scale(1.222 0.991)" stroke="#161616" stroke-width="0.15">.</text>
<text transform="translate(299.90 793.42) scale(0.874 0.991)" stroke="#161616" stroke-width="0.15">2</text>
<ellipse cx="318.90" cy="784.90" rx="5.27" ry="7.67" fill="none" stroke="#161616" stroke-width="1.65"/>
<ellipse cx="334.10" cy="784.90" rx="5.27" ry="7.67" fill="none" stroke="#161616" stroke-width="1.65"/>
<text transform="translate(341.17 793.42) scale(0.959 0.991)" stroke="#161616" stroke-width="0.15">9</text>
<text transform="translate(352.14 793.42) scale(1.222 0.991)" stroke="#161616" stroke-width="0.15">.</text>
<text transform="translate(381.90 793.42) scale(0.874 0.991)" stroke="#161616" stroke-width="0.15">2</text>
<ellipse cx="400.90" cy="784.90" rx="5.27" ry="7.67" fill="none" stroke="#161616" stroke-width="1.65"/>
<text transform="translate(407.51 793.42) scale(0.838 0.991)" stroke="#161616" stroke-width="0.15">1</text>
<text transform="translate(419.29 793.42) scale(0.796 0.991)" stroke="#161616" stroke-width="0.15">5</text>
<text transform="translate(428.74 793.42) scale(1.222 0.991)" stroke="#161616" stroke-width="0.15">.</text>
<text transform="translate(464.00 793.42) scale(0.874 0.991)" stroke="#161616" stroke-width="0.15">2</text>
<ellipse cx="483.00" cy="784.90" rx="5.27" ry="7.67" fill="none" stroke="#161616" stroke-width="1.65"/>
<text transform="translate(489.61 793.42) scale(0.838 0.991)" stroke="#161616" stroke-width="0.15">1</text>
<text transform="translate(501.39 793.42) scale(0.796 0.991)" stroke="#161616" stroke-width="0.15">5</text>
<text transform="translate(510.84 793.42) scale(1.222 0.991)" stroke="#161616" stroke-width="0.15">.</text>
<text transform="translate(545.70 793.42) scale(0.874 0.991)" stroke="#161616" stroke-width="0.15">2</text>
<ellipse cx="564.70" cy="784.90" rx="5.28" ry="7.67" fill="none" stroke="#161616" stroke-width="1.65"/>
<ellipse cx="579.90" cy="784.90" rx="5.28" ry="7.67" fill="none" stroke="#161616" stroke-width="1.65"/>
<text transform="translate(586.97 793.42) scale(0.959 0.991)" stroke="#161616" stroke-width="0.15">9</text>
<text transform="translate(597.94 793.42) scale(1.222 0.991)" stroke="#161616" stroke-width="0.15">.</text>
<text transform="translate(628.20 793.42) scale(0.874 0.991)" stroke="#161616" stroke-width="0.15">2</text>
<ellipse cx="647.20" cy="784.90" rx="5.28" ry="7.67" fill="none" stroke="#161616" stroke-width="1.65"/>
<ellipse cx="662.40" cy="784.90" rx="5.28" ry="7.67" fill="none" stroke="#161616" stroke-width="1.65"/>
<text transform="translate(669.52 793.42) scale(0.840 0.991)" stroke="#161616" stroke-width="0.15">7</text>
<text transform="translate(677.94 793.42) scale(1.222 0.991)" stroke="#161616" stroke-width="0.15">.</text>
<text transform="translate(709.50 793.42) scale(0.874 0.991)" stroke="#161616" stroke-width="0.15">2</text>
<ellipse cx="728.50" cy="784.90" rx="5.28" ry="7.67" fill="none" stroke="#161616" stroke-width="1.65"/>
<text transform="translate(735.11 793.42) scale(0.838 0.991)" stroke="#161616" stroke-width="0.15">1</text>
<ellipse cx="753.70" cy="784.90" rx="5.28" ry="7.67" fill="none" stroke="#161616" stroke-width="1.65"/>
<text transform="translate(758.64 793.42) scale(1.222 0.991)" stroke="#161616" stroke-width="0.15">.</text>
<text transform="translate(792.40 793.42) scale(0.874 0.991)" stroke="#161616" stroke-width="0.15">2</text>
<ellipse cx="811.40" cy="784.90" rx="5.28" ry="7.67" fill="none" stroke="#161616" stroke-width="1.65"/>
<text transform="translate(818.01 793.42) scale(0.838 0.991)" stroke="#161616" stroke-width="0.15">1</text>
<text transform="translate(830.07 793.42) scale(0.903 0.991)" stroke="#161616" stroke-width="0.15">4</text>
<text transform="translate(840.14 793.42) scale(1.222 0.991)" stroke="#161616" stroke-width="0.15">.</text>
<text transform="translate(874.90 793.42) scale(0.874 0.991)" stroke="#161616" stroke-width="0.15">2</text>
<ellipse cx="893.90" cy="784.90" rx="5.28" ry="7.67" fill="none" stroke="#161616" stroke-width="1.65"/>
<text transform="translate(900.51 793.42) scale(0.838 0.991)" stroke="#161616" stroke-width="0.15">1</text>
<text transform="translate(911.51 793.42) scale(0.838 0.991)" stroke="#161616" stroke-width="0.15">1</text>
<text transform="translate(920.64 793.42) scale(1.222 0.991)" stroke="#161616" stroke-width="0.15">.</text>
<text transform="translate(956.50 793.42) scale(0.874 0.991)" stroke="#161616" stroke-width="0.15">2</text>
<ellipse cx="975.50" cy="784.90" rx="5.28" ry="7.67" fill="none" stroke="#161616" stroke-width="1.65"/>
<text transform="translate(982.11 793.42) scale(0.838 0.991)" stroke="#161616" stroke-width="0.15">1</text>
<text transform="translate(994.17 793.42) scale(0.903 0.991)" stroke="#161616" stroke-width="0.15">4</text>
<text transform="translate(1004.24 793.42) scale(1.222 0.991)" stroke="#161616" stroke-width="0.15">.</text>
<text transform="translate(1038.80 793.42) scale(0.874 0.991)" stroke="#161616" stroke-width="0.15">2</text>
<ellipse cx="1057.80" cy="784.90" rx="5.28" ry="7.67" fill="none" stroke="#161616" stroke-width="1.65"/>
<text transform="translate(1064.41 793.42) scale(0.838 0.991)" stroke="#161616" stroke-width="0.15">1</text>
<text transform="translate(1076.47 793.42) scale(0.903 0.991)" stroke="#161616" stroke-width="0.15">4</text>
<text transform="translate(1086.54 793.42) scale(1.222 0.991)" stroke="#161616" stroke-width="0.15">.</text>
<text transform="translate(1120.40 793.42) scale(0.874 0.991)" stroke="#161616" stroke-width="0.15">2</text>
<ellipse cx="1139.40" cy="784.90" rx="5.28" ry="7.67" fill="none" stroke="#161616" stroke-width="1.65"/>
<text transform="translate(1146.01 793.42) scale(0.838 0.991)" stroke="#161616" stroke-width="0.15">1</text>
<text transform="translate(1157.52 793.42) scale(0.840 0.991)" stroke="#161616" stroke-width="0.15">7</text>
<text transform="translate(1165.94 793.42) scale(1.222 0.991)" stroke="#161616" stroke-width="0.15">.</text>
<text transform="translate(18.23 839.35) scale(0.976 0.970)" stroke="#161616" stroke-width="0.5">ampl</text>
<ellipse cx="143.30" cy="831.00" rx="5.27" ry="7.67" fill="none" stroke="#161616" stroke-width="1.65"/>
<ellipse cx="225.00" cy="831.00" rx="5.27" ry="7.67" fill="none" stroke="#161616" stroke-width="1.65"/>
<ellipse cx="307.00" cy="831.00" rx="5.27" ry="7.67" fill="none" stroke="#161616" stroke-width="1.65"/>
<ellipse cx="389.00" cy="831.00" rx="5.27" ry="7.67" fill="none" stroke="#161616" stroke-width="1.65"/>
<ellipse cx="471.10" cy="831.00" rx="5.27" ry="7.67" fill="none" stroke="#161616" stroke-width="1.65"/>
<ellipse cx="552.80" cy="831.00" rx="5.28" ry="7.67" fill="none" stroke="#161616" stroke-width="1.65"/>
<ellipse cx="635.30" cy="831.00" rx="5.28" ry="7.67" fill="none" stroke="#161616" stroke-width="1.65"/>
<ellipse cx="716.60" cy="831.00" rx="5.28" ry="7.67" fill="none" stroke="#161616" stroke-width="1.65"/>
<ellipse cx="799.50" cy="831.00" rx="5.28" ry="7.67" fill="none" stroke="#161616" stroke-width="1.65"/>
<ellipse cx="882.00" cy="831.00" rx="5.28" ry="7.67" fill="none" stroke="#161616" stroke-width="1.65"/>
<ellipse cx="963.60" cy="831.00" rx="5.28" ry="7.67" fill="none" stroke="#161616" stroke-width="1.65"/>
<ellipse cx="1045.90" cy="831.00" rx="5.28" ry="7.67" fill="none" stroke="#161616" stroke-width="1.65"/>
<ellipse cx="1127.50" cy="831.00" rx="5.28" ry="7.67" fill="none" stroke="#161616" stroke-width="1.65"/>
</svg>
</body></html>
